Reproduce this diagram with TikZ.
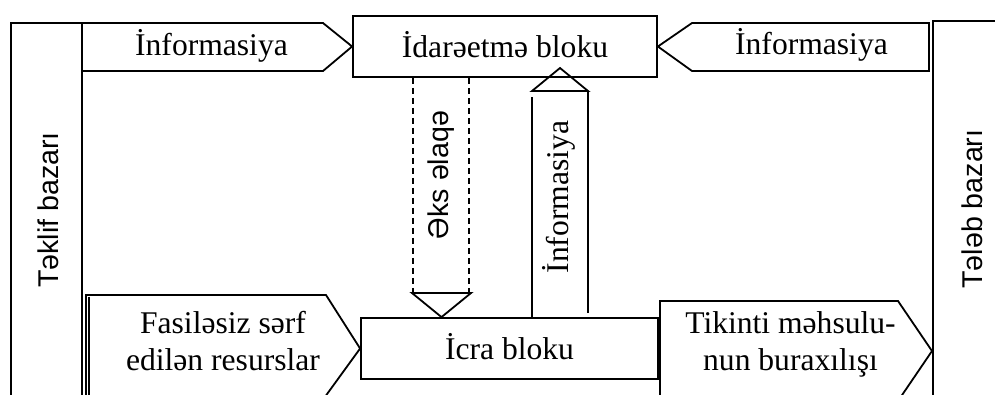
\documentclass[tikz,border=0pt]{standalone}
\usepackage{fontspec}
\setmainfont{Liberation Serif}
\newfontfamily\sansf{Liberation Sans}
\begin{document}
\begin{tikzpicture}[x=1pt,y=-1pt,line width=1.8pt,line join=miter,
  ser/.style={font=\fontsize{31.6}{37}\selectfont,inner sep=0pt,align=center},
  san/.style={font=\sansf\fontsize{28.6}{34}\selectfont,inner sep=0pt},
  blk/.style={draw,line width=1.8pt,inner sep=0pt,font=\fontsize{31.6}{37}\selectfont,
    text height=21pt,text depth=0pt},
  dsh/.style={dash pattern=on 6pt off 4pt}]
\clip (0,0) rectangle (995,394);
% markets
\draw (11,410) -- (11,23) -- (82,23) -- (82,410);
\node[san,rotate=90] (supply) at (48,210) {Təklif bazarı};
\draw (933,410) -- (933,21) -- (1010,21);
\node[san,rotate=90] (demand) at (972,209) {Tələb bazarı};
% blocks
\node[blk,minimum width=304pt,minimum height=61pt] (ctrl) at (505,46.5) {İdarəetmə bloku};
\node[blk,minimum width=297pt,minimum height=61pt] (exec) at (509.5,348.5) {İcra bloku};
% top information arrows
\draw (82,23) -- (323,23) -- (ctrl.west) -- (323,71) -- (82,71) -- cycle;
\node[ser,anchor=base] (infoL) at (211.5,55) {İnformasiya};
\draw (929,23) -- (692,23) -- (ctrl.east) -- (692,71) -- (929,71) -- cycle;
\node[ser,anchor=base] (infoR) at (811.5,54) {İnformasiya};
% feedback arrow (dashed)
\coordinate (fbL) at (413,293);
\coordinate (fbR) at (469,293);
\draw[dsh] (fbL |- ctrl.south) -- (fbL);
\draw[dsh] (fbR |- ctrl.south) -- (fbR);
\draw (412,293) -- (471,293) -- (exec.north -| 441.5,0) -- cycle;
\node[san,rotate=90] (fb) at (441,175) {Əks əlaqə};
% information up arrow
\draw (532,0 |- exec.north) -- (532,97);
\draw (588,313) -- (588,91);
\draw (532,91) -- (588,91) -- (560,68) -- cycle;
\node[ser,rotate=90] (infoU) at (559,197) {İnformasiya};
% resources arrow
\draw (86,410) -- (86,295) -- (326,295) -- (exec.west) -- (322,401);
\draw (89,410) -- (89,297);
\node[ser] (res) at (223,340.7) {Fasiləsiz sərf\\edilən resurslar};
% output arrow
\draw (660,410) -- (660,301) -- (898,301) -- (932,351) -- (898,401);
\node[ser] (out) at (790.5,344.1) {Tikinti məhsulu-\\nun buraxılışı};
\end{tikzpicture}
\end{document}
